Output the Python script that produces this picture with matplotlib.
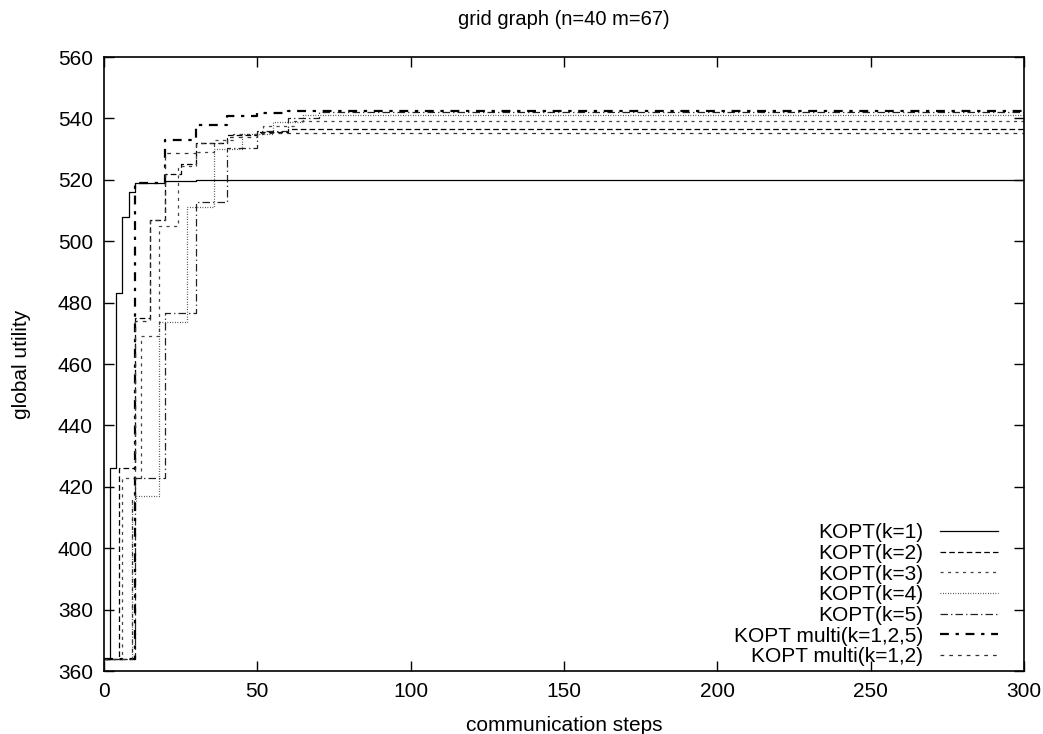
import matplotlib
matplotlib.use("Agg")
import matplotlib.pyplot as plt

# step points (communication step where the value changes, global utility)
k1_x = [0, 2, 4, 6, 8, 10, 20, 30, 300]
k1_y = [364, 426, 483, 508, 516, 519, 519.5, 520, 520]

k2_x = [0, 5, 10, 15, 20, 25, 30, 40, 50, 60, 300]
k2_y = [364, 426, 475, 507, 522, 525.3, 532, 534.5, 535.5, 536.4, 536.4]

k3_x = [0, 6, 12, 18, 24, 30, 36, 42, 52, 62, 300]
k3_y = [364, 423, 469, 505, 524.5, 529, 533, 535, 537.5, 539.2, 539.2]

k4_x = [0, 9, 10.5, 18, 27, 36, 45, 55, 65, 300]
k4_y = [364, 415.5, 417, 473.7, 511, 530, 535, 539, 541, 541]

k5_x = [0, 10, 20, 30, 40, 50, 60, 70, 300]
k5_y = [364, 423, 476.6, 512.8, 530.5, 536, 540, 542, 542]

m125_x = [0, 10, 20, 30, 40, 50, 60, 300]
m125_y = [364, 519, 533, 538, 540.7, 541.7, 542.3, 542.3]

m12_x = [0, 9, 10, 15, 20, 30, 40, 50, 300]
m12_y = [364, 416, 474, 507, 528.8, 532, 534, 535.4, 535.4]

labels = ["KOPT(k=1)", "KOPT(k=2)", "KOPT(k=3)", "KOPT(k=4)", "KOPT(k=5)",
          "KOPT multi(k=1,2,5)", "KOPT multi(k=1,2)"]

plt.rcParams['font.family'] = ['Liberation Sans', 'DejaVu Sans']

fig = plt.figure(figsize=(10.43, 7.34), dpi=100)
ax = fig.add_axes([0.0997, 0.0858, 0.8821, 0.8365])

series = [
    (k1_x, k1_y, dict(color='black', lw=0.9, ls='-')),
    (k2_x, k2_y, dict(color='black', lw=0.9, ls=(0, (4.5, 2.5)))),
    (k3_x, k3_y, dict(color='#444444', lw=0.9, ls=(0, (2.5, 3.5)))),
    (k4_x, k4_y, dict(color='#222222', lw=0.9, ls=(0, (0.6, 1.4)))),
    (k5_x, k5_y, dict(color='#222222', lw=0.9, ls=(0, (6, 2.5, 1, 2.5)))),
    (m125_x, m125_y, dict(color='black', lw=1.6, ls=(0, (4, 3, 1.5, 3)))),
    (m12_x, m12_y, dict(color='#333333', lw=0.9, ls=(0, (3, 4)))),
]
for (xs, ys, st), lab in zip(series, labels):
    ax.plot(xs, ys, drawstyle='steps-post', label=lab, **st)

ax.set_xlim(0, 300)
ax.set_ylim(360, 560)
ax.set_xticks(range(0, 301, 50))
ax.set_yticks(range(360, 561, 20))
ax.tick_params(direction='in', length=7, width=1, top=True, right=True,
               labelsize=15, pad=8)
for s in ax.spines.values():
    s.set_linewidth(1.2)

ax.set_title("grid graph (n=40 m=67)", fontsize=14.5, pad=23)
ax.set_xlabel("communication steps", fontsize=15, labelpad=11)
ax.set_ylabel("global utility", fontsize=15, labelpad=19)

leg = ax.legend(loc='lower right', bbox_to_anchor=(0.981, -0.006),
                frameon=False, markerfirst=False,
                fontsize=15, handlelength=2.8, handletextpad=0.8,
                labelspacing=0.08, borderaxespad=0.0)

fig.savefig("out.png", dpi=100)
